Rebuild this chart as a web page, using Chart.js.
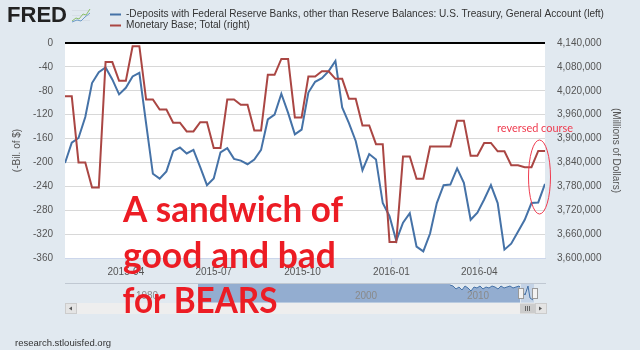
<!DOCTYPE html>
<html>
<head>
<meta charset="utf-8">
<script src="https://cdn.jsdelivr.net/npm/chart.js@4.4.1/dist/chart.umd.min.js"></script>
<style>
  html, body { margin: 0; padding: 0; background: #e1e9f0; }
  #wrap { position: relative; width: 640px; height: 350px; }
  canvas { display: block; }
</style>
</head>
<body>
<div id="wrap"><canvas id="chart" width="640" height="350"></canvas></div>
<script>
// ── data (weekly, Wednesdays) ──────────────────
const weekDates = [
  '2015-01-28',
  '2015-02-04', '2015-02-11', '2015-02-18', '2015-02-25',
  '2015-03-04', '2015-03-11', '2015-03-18', '2015-03-25',
  '2015-04-01', '2015-04-08', '2015-04-15', '2015-04-22', '2015-04-29',
  '2015-05-06', '2015-05-13', '2015-05-20', '2015-05-27',
  '2015-06-03', '2015-06-10', '2015-06-17', '2015-06-24',
  '2015-07-01', '2015-07-08', '2015-07-15', '2015-07-22', '2015-07-29',
  '2015-08-05', '2015-08-12', '2015-08-19', '2015-08-26',
  '2015-09-02', '2015-09-09', '2015-09-16', '2015-09-23', '2015-09-30',
  '2015-10-07', '2015-10-14', '2015-10-21', '2015-10-28',
  '2015-11-04', '2015-11-11', '2015-11-18', '2015-11-25',
  '2015-12-02', '2015-12-09', '2015-12-16', '2015-12-23', '2015-12-30',
  '2016-01-06', '2016-01-13', '2016-01-20', '2016-01-27',
  '2016-02-03', '2016-02-10', '2016-02-17', '2016-02-24',
  '2016-03-02', '2016-03-09', '2016-03-16', '2016-03-23', '2016-03-30',
  '2016-04-06', '2016-04-13', '2016-04-20', '2016-04-27',
  '2016-05-04', '2016-05-11', '2016-05-18', '2016-05-25',
  '2016-06-01', '2016-06-08',
];

// -Deposits with F.R. Banks, U.S. Treasury General Account (-Bil. of $)
const treasuryDeposits = [
  -201, -167, -159, -124, -67, -49, -41, -61, -86, -75,
  -56, -50, -135, -219, -227, -215, -181, -175, -185, -179,
  -208, -238, -227, -183, -176, -194, -197, -203, -195, -179,
  -128, -120, -85, -117, -153, -145, -83, -65, -59, -47,
  -30, -108, -134, -164, -213, -186, -195, -268, -290, -331,
  -301, -285, -341, -349, -319, -268, -238, -237, -210, -234,
  -296, -284, -262, -238, -268, -346, -336, -316, -296, -268,
  -267, -236,
];

// Monetary Base; Total (Millions of Dollars)
const monetaryBase = [
  4006000, 4006000, 3840000, 3840000, 3777000, 3777000, 4092000, 4092000,
  4045000, 4045000, 4132000, 4132000, 3998000, 3998000, 3973000, 3973000,
  3940000, 3940000, 3918000, 3918000, 3941000, 3941000, 3876000, 3876000,
  3998000, 3998000, 3985000, 3985000, 3920000, 3920000, 4060000, 4060000,
  4100000, 4100000, 3953000, 3953000, 4056000, 4056000, 4069000, 4069000,
  4050000, 4050000, 4000000, 4000000, 3933000, 3933000, 3886000, 3886000,
  3640000, 3640000, 3855000, 3855000, 3799000, 3799000, 3880000, 3880000,
  3880000, 3880000, 3945000, 3945000, 3857000, 3857000, 3889000, 3889000,
  3868000, 3868000, 3833000, 3833000, 3828000, 3828000, 3869000, 3869000,
];

const seriesLabels = [
  '-Deposits with Federal Reserve Banks, other than Reserve Balances: U.S. Treasury, General Account (left)',
  'Monetary Base; Total (right)',
];
const xTickLabels = ['2015-04', '2015-07', '2015-10', '2016-01', '2016-04'];
const navigatorLabels = ['1980', '2000', '2010'];
const annotationLines = ['A sandwich of', 'good and bad', 'for BEARS'];
const calloutText = 'reversed course';

const BLUE = '#4572a7';
const RED = '#aa4643';
const NOTE_RED = '#ec1c24';
const AXIS_FONT = { family: '"Liberation Sans", Arial, sans-serif', size: 10 };

const toDay = s => Date.UTC(+s.slice(0, 4), +s.slice(5, 7) - 1, +s.slice(8, 10) || 1) / 86400000;

/** Draw text stretched/squeezed horizontally to a target width. */
function fitText(ctx, text, x, y, width) {
  const w = ctx.measureText(text).width;
  ctx.save();
  ctx.translate(x, y);
  ctx.scale(width / w, 1);
  ctx.fillText(text, 0, 0);
  ctx.restore();
}

const decor = {
  id: 'decor',
  beforeDraw(chart) {
    const { ctx, chartArea: a } = chart;
    ctx.save();
    ctx.fillStyle = '#ffffff';
    ctx.fillRect(a.left, a.top, a.right - a.left, a.bottom - a.top);
    ctx.restore();
  },
  afterDraw(chart) {
    const { ctx, chartArea: a } = chart;
    ctx.save();

    // FRED logo
    ctx.fillStyle = '#222';
    ctx.font = 'bold 22px "Liberation Sans", Arial, sans-serif';
    ctx.textBaseline = 'alphabetic';
    fitText(ctx, 'FRED', 7, 22, 60);
    ctx.strokeStyle = '#d7dee6';
    ctx.lineWidth = 1;
    for (let i = 0; i < 3; i++) {
      ctx.beginPath(); ctx.moveTo(72, 10.5 + i * 5); ctx.lineTo(90, 10.5 + i * 5); ctx.stroke();
    }
    ctx.strokeStyle = '#8cbf6a';
    ctx.beginPath();
    ctx.moveTo(72, 21); ctx.lineTo(76, 18); ctx.lineTo(79, 19); ctx.lineTo(83, 14); ctx.lineTo(86, 15); ctx.lineTo(90, 9);
    ctx.stroke();
    ctx.strokeStyle = '#6c9bc9';
    ctx.beginPath();
    ctx.moveTo(72, 22); ctx.lineTo(77, 20); ctx.lineTo(81, 21); ctx.lineTo(85, 17); ctx.lineTo(90, 13);
    ctx.stroke();

    // legend
    ctx.font = '10.1px "Liberation Sans", Arial, sans-serif';
    ctx.textBaseline = 'middle';
    [BLUE, RED].forEach((c, i) => {
      const y = 14.5 + i * 11;
      ctx.strokeStyle = c;
      ctx.lineWidth = 2;
      ctx.beginPath(); ctx.moveTo(110, y); ctx.lineTo(121, y); ctx.stroke();
      ctx.fillStyle = '#333';
      ctx.fillText(chart.data.datasets[i].label, 126, y);
    });

    // navigator
    const nTop = 283, nBot = 302.5;
    ctx.strokeStyle = '#c0c8d2';
    ctx.lineWidth = 1;
    ctx.beginPath(); ctx.moveTo(a.left, nTop + 0.5); ctx.lineTo(a.right + 1, nTop + 0.5); ctx.stroke();
    ctx.fillStyle = '#93add0';
    ctx.fillRect(198, nTop + 1, 252, nBot - nTop - 1);
    ctx.beginPath();
    ctx.moveTo(450, nTop + 2);
    const jag = [3, 6, 4, 7, 3, 5, 8, 4, 5, 3, 6, 4, 5, 3, 4, 6, 3, 5, 4, 3, 5, 4, 3];
    jag.forEach((d, i) => ctx.lineTo(453 + i * 3, nTop + d));
    ctx.lineTo(520, nTop + 4);
    ctx.lineTo(520, nBot);
    ctx.lineTo(450, nBot);
    ctx.closePath();
    ctx.fill();
    ctx.strokeStyle = BLUE;
    ctx.beginPath();
    ctx.moveTo(450, nTop + 2);
    jag.forEach((d, i) => ctx.lineTo(453 + i * 3, nTop + d));
    ctx.lineTo(520, nTop + 4);
    ctx.stroke();
    ctx.fillStyle = '#c4d3e6';
    ctx.fillRect(521, nTop + 1, 13, nBot - nTop - 1);
    ctx.strokeStyle = BLUE;
    ctx.beginPath();
    ctx.moveTo(522, nTop + 8); ctx.lineTo(525, nTop + 12); ctx.lineTo(528, nTop + 3); ctx.lineTo(530, nTop + 15); ctx.lineTo(533, nTop + 17);
    ctx.stroke();
    [518, 532].forEach(hx => {
      ctx.fillStyle = '#f2f2f2';
      ctx.strokeStyle = '#999';
      ctx.fillRect(hx + 0.5, nTop + 5.5, 5, 10);
      ctx.strokeRect(hx + 0.5, nTop + 5.5, 5, 10);
    });
    ctx.fillStyle = '#8a8a8a';
    ctx.font = '10px "Liberation Sans", Arial, sans-serif';
    ctx.textAlign = 'center';
    ctx.textBaseline = 'middle';
    [147, 366, 478].forEach((x, i) => ctx.fillText(navigatorLabels[i], x, 296.5));

    // scrollbar
    const sTop = 303, sH = 11;
    ctx.fillStyle = '#eeeeee';
    ctx.fillRect(a.left, sTop, a.right + 1 - a.left, sH);
    ctx.fillStyle = '#e4e4e4';
    ctx.strokeStyle = '#cccccc';
    ctx.fillRect(a.left + 0.5, sTop + 0.5, 11, sH - 1);
    ctx.strokeRect(a.left + 0.5, sTop + 0.5, 11, sH - 1);
    ctx.fillRect(a.right - 9.5, sTop + 0.5, 11, sH - 1);
    ctx.strokeRect(a.right - 9.5, sTop + 0.5, 11, sH - 1);
    ctx.fillStyle = '#cccccc';
    ctx.fillRect(520, sTop + 0.5, 15, sH - 1);
    ctx.fillStyle = '#555';
    ctx.beginPath(); ctx.moveTo(a.left + 4, sTop + 5.5); ctx.lineTo(a.left + 7, sTop + 3.5); ctx.lineTo(a.left + 7, sTop + 7.5); ctx.fill();
    ctx.beginPath(); ctx.moveTo(a.right - 3, sTop + 5.5); ctx.lineTo(a.right - 6, sTop + 3.5); ctx.lineTo(a.right - 6, sTop + 7.5); ctx.fill();
    ctx.strokeStyle = '#666';
    [525.5, 527.5, 529.5].forEach(x => { ctx.beginPath(); ctx.moveTo(x, sTop + 3); ctx.lineTo(x, sTop + 8); ctx.stroke(); });

    // footer
    ctx.textAlign = 'left';
    ctx.fillStyle = '#333';
    ctx.font = '9.5px "Liberation Sans", Arial, sans-serif';
    ctx.fillText('research.stlouisfed.org', 15, 343);

    // annotations
    ctx.fillStyle = NOTE_RED;
    ctx.textBaseline = 'alphabetic';
    ctx.font = 'bold 37px Lato, "Open Sans", sans-serif';
    const lines = [[123, 222, 220], [123, 268, 213], [122.5, 313, 155]];
    annotationLines.forEach((t, i) => fitText(ctx, t, lines[i][0], lines[i][1], lines[i][2]));

    ctx.fillStyle = '#ef3b4f';
    ctx.font = '12px Lato, "Open Sans", sans-serif';
    fitText(ctx, calloutText, 497, 131.5, 76);
    ctx.strokeStyle = '#ef3b4f';
    ctx.lineWidth = 1;
    ctx.beginPath();
    ctx.ellipse(539.5, 177, 11, 37, 0, 0, Math.PI * 2);
    ctx.stroke();

    ctx.restore();
  },
};

new Chart(document.getElementById('chart'), {
  type: 'line',
  data: {
    datasets: [
      {
        label: seriesLabels[0],
        data: weekDates.map((d, i) => ({ x: toDay(d), y: treasuryDeposits[i] })),
        yAxisID: 'y',
        borderColor: BLUE,
        borderWidth: 2,
        pointRadius: 0,
        tension: 0,
        order: 2,
      },
      {
        label: seriesLabels[1],
        data: weekDates.map((d, i) => ({ x: toDay(d), y: monetaryBase[i] })),
        yAxisID: 'y1',
        borderColor: RED,
        borderWidth: 2,
        pointRadius: 0,
        tension: 0,
        order: 1,
      },
    ],
  },
  options: {
    responsive: false,
    animation: false,
    layout: { padding: { top: 43, left: 0, right: 0, bottom: 0 } },
    plugins: { legend: { display: false }, tooltip: { enabled: false } },
    scales: {
      x: {
        type: 'linear',
        min: toDay(weekDates[0]),
        max: toDay(weekDates[weekDates.length - 1]),
        afterBuildTicks: s => { s.ticks = xTickLabels.map(l => ({ value: toDay(l + '-01') })); },
        ticks: {
          callback: (v, i) => xTickLabels[i],
          autoSkip: false,
          maxRotation: 0,
          color: '#555',
          font: AXIS_FONT,
          padding: 1,
        },
        grid: { drawOnChartArea: false, tickLength: 7, color: '#ccd6eb' },
        border: { color: '#ccd6eb' },
        afterFit: s => { s.height = 92; },
      },
      y: {
        position: 'left',
        min: -360,
        max: 0,
        ticks: { stepSize: 40, color: '#555', font: AXIS_FONT, padding: 12 },
        grid: {
          color: ctx => (ctx.tick.value === 0 ? '#000' : '#d8d8d8'),
          lineWidth: ctx => (ctx.tick.value === 0 ? 2 : 1),
          drawTicks: false,
        },
        border: { display: false },
        title: { display: true, text: '(-Bil. of $)', color: '#555', font: AXIS_FONT, padding: { top: 11 } },
        afterFit: s => { s.width = 65; },
      },
      y1: {
        position: 'right',
        min: 3600000,
        max: 4140000,
        ticks: {
          stepSize: 60000,
          color: '#555',
          font: AXIS_FONT,
          padding: 12,
          callback: v => v.toLocaleString('en-US'),
        },
        grid: { drawOnChartArea: false, drawTicks: false },
        border: { display: false },
        title: { display: true, text: '(Millions of Dollars)', color: '#555', font: AXIS_FONT, padding: { top: 18 } },
        afterFit: s => { s.width = 95; },
      },
    },
  },
  plugins: [decor],
});
</script>
</body>
</html>
